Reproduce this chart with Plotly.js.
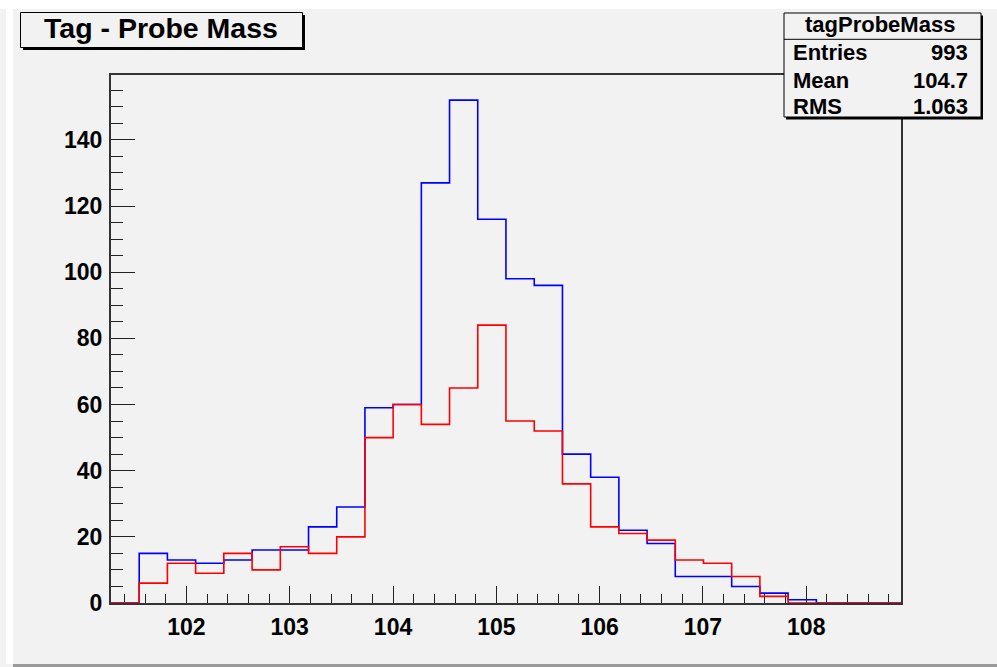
<!DOCTYPE html>
<html>
<head>
<meta charset="utf-8">
<script src="https://cdn.plot.ly/plotly-3.0.1.min.js"></script>
<style>
  html, body { margin: 0; padding: 0; background: #f2f2f2; }
  #chart { width: 997px; height: 667px; }
</style>
</head>
<body>
<div id="chart"></div>
<script>
// ---- data ----
const binEdges = [101.270, 101.543, 101.816, 102.089, 102.362, 102.636, 102.909, 103.182,
  103.455, 103.728, 104.001, 104.274, 104.547, 104.820, 105.093, 105.367, 105.640,
  105.913, 106.186, 106.459, 106.732, 107.005, 107.278, 107.551, 107.824, 108.098,
  108.371, 108.644, 108.917];
const blueCounts = [0, 15, 13, 12, 13, 16, 16, 23, 29, 59, 60, 127, 152, 116, 98, 96,
  45, 38, 22, 18, 8, 8, 5, 3, 1, 0, 0, 0];
const redCounts = [0, 6, 12, 9, 15, 10, 17, 15, 20, 50, 60, 54, 65, 84, 55, 52,
  36, 23, 21, 19, 13, 12, 8, 2, 0, 0, 0, 0];
const xTickVals = [102, 103, 104, 105, 106, 107, 108];
const yTickVals = [0, 20, 40, 60, 80, 100, 120, 140];
const titleText = 'Tag - Probe Mass';
const statsName = 'tagProbeMass';
const statsLabels = ['Entries', 'Mean', 'RMS'];
const statsValues = ['993', '104.7', '1.063'];

// ---- geometry helpers (pixels -> paper) ----
const W = 997, H = 667;
const L = 111, R = 901, T = 75, B = 603;
const fx = px => (px - L) / (R - L);
const fy = py => (B - py) / (B - T);

function stepY(counts) { return counts.concat([counts[counts.length - 1]]); }

const traces = [
  { x: binEdges, y: stepY(blueCounts), type: 'scatter', mode: 'lines',
    line: { shape: 'hv', color: '#0000ff', width: 1.6 }, cliponaxis: false, hoverinfo: 'skip' },
  { x: binEdges, y: stepY(redCounts), type: 'scatter', mode: 'lines',
    line: { shape: 'hv', color: '#ff0000', width: 1.6 }, cliponaxis: false, hoverinfo: 'skip' }
];

const fontFam = '"Liberation Sans", Arial, Helvetica, sans-serif';
const rect = (x0, y0, x1, y1, fill, lineColor, lw) => ({
  type: 'rect', xref: 'paper', yref: 'paper', layer: 'above',
  x0: fx(x0), x1: fx(x1), y0: fy(y1), y1: fy(y0),
  fillcolor: fill, line: { color: lineColor, width: lw }
});
const hline = (x0, x1, y, color, lw) => ({
  type: 'line', xref: 'paper', yref: 'paper', layer: 'above',
  x0: fx(x0), x1: fx(x1), y0: fy(y), y1: fy(y), line: { color: color, width: lw }
});

const shapes = [
  // canvas borders
  rect(0, 0, W, 9, '#ffffff', 'rgba(0,0,0,0)', 0),
  rect(6, 0, 13, 664, '#ffffff', 'rgba(0,0,0,0)', 0),
  rect(13, 664, W, H, '#9a9a9a', 'rgba(0,0,0,0)', 0),
  // title box with shadow
  rect(23, 15, 305, 50, '#000000', '#000000', 0),
  rect(20.5, 12.5, 302.5, 47.5, '#f2f2f2', '#000000', 1),
  // stats box with shadow
  rect(786, 15.5, 983, 119.5, '#000000', '#000000', 0),
  rect(784, 13, 981, 117, '#f2f2f2', '#000000', 1),
  hline(784, 981, 39.3, '#000000', 1)
];

const annotations = [
  { text: '<b>' + titleText + '</b>', xref: 'paper', yref: 'paper', x: fx(160.5), y: fy(28),
    xanchor: 'center', yanchor: 'middle', showarrow: false,
    font: { family: fontFam, size: 28.5, color: '#000' } },
  { text: '<b>' + statsName + '</b>', xref: 'paper', yref: 'paper', x: fx(880), y: fy(25),
    xanchor: 'center', yanchor: 'middle', showarrow: false,
    font: { family: fontFam, size: 22, color: '#000' } }
];
const rowY = [52, 80, 106];
statsLabels.forEach((lab, i) => {
  annotations.push({ text: '<b>' + lab + '</b>', xref: 'paper', yref: 'paper', x: fx(791), y: fy(rowY[i]),
    xanchor: 'left', yanchor: 'middle', showarrow: false,
    font: { family: fontFam, size: 22, color: '#000' } });
  annotations.push({ text: '<b>' + statsValues[i] + '</b>', xref: 'paper', yref: 'paper', x: fx(970), y: fy(rowY[i]),
    xanchor: 'right', yanchor: 'middle', showarrow: false,
    font: { family: fontFam, size: 22, color: '#000' } });
});

const layout = {
  width: W, height: H,
  margin: { l: L, r: W - R, t: T, b: H - B, pad: 0 },
  paper_bgcolor: '#f2f2f2', plot_bgcolor: '#f2f2f2',
  showlegend: false,
  xaxis: {
    range: [binEdges[0], binEdges[binEdges.length - 1]],
    tickmode: 'array', tickvals: xTickVals, ticktext: xTickVals.map(String),
    ticks: 'inside', ticklen: 17, tickwidth: 1, tickcolor: '#222',
    minor: { dtick: 0.2, tick0: 102, ticks: 'inside', ticklen: 9, tickwidth: 1, tickcolor: '#222', showgrid: false },
    showgrid: false, zeroline: false,
    showline: true, mirror: true, linecolor: '#333', linewidth: 2,
    layer: 'below traces',
    ticklabelstandoff: 2,
    tickfont: { family: fontFam, size: 23, color: '#000', weight: 700 }
  },
  yaxis: {
    range: [0, 159.6],
    tickmode: 'array', tickvals: yTickVals, ticktext: yTickVals.map(String),
    ticks: 'inside', ticklen: 24, tickwidth: 1, tickcolor: '#222',
    minor: { dtick: 5, tick0: 0, ticks: 'inside', ticklen: 12, tickwidth: 1, tickcolor: '#222', showgrid: false },
    showgrid: false, zeroline: false,
    showline: true, mirror: true, linecolor: '#333', linewidth: 2,
    layer: 'below traces',
    ticklabelstandoff: 2,
    tickfont: { family: fontFam, size: 23, color: '#000', weight: 700 }
  },
  shapes: shapes,
  annotations: annotations
};

Plotly.newPlot('chart', traces, layout, { staticPlot: true, displayModeBar: false });
</script>
</body>
</html>
